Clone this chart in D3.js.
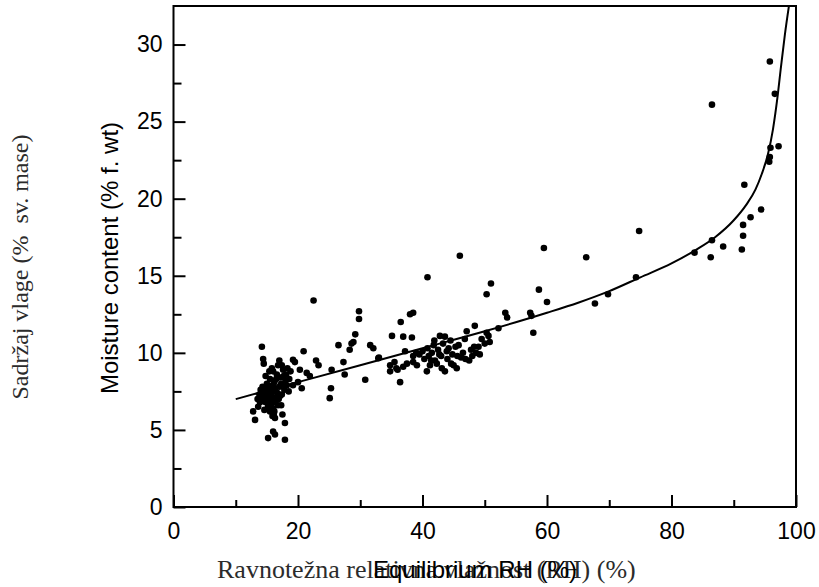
<!DOCTYPE html>
<html>
<head>
<meta charset="utf-8">
<script src="https://cdn.jsdelivr.net/npm/d3@7"></script>
<style>
  body { margin: 0; background: #fff; }
  svg { display: block; }
</style>
</head>
<body>
<div id="chart"></div>
<script>
// measured points: [equilibrium RH %, moisture content % f. wt]
const samplePoints = [
  [12.8,6.2],[13.1,5.65],[13.5,7.0],[13.8,7.3],[14.0,7.6],[14.2,10.4],[14.4,9.6],[14.5,9.3],
  [14.3,7.8],[14.6,7.1],[14.8,6.8],[15.0,7.4],[15.0,8.0],[15.2,6.5],[15.3,7.2],[15.5,6.2],
  [15.5,8.3],[15.6,7.7],[15.8,6.9],[16.0,7.5],[16.0,6.4],[16.2,8.1],[16.3,5.77],[16.0,4.9],
  [16.3,4.7],[15.2,4.47],[16.5,7.0],[16.6,8.6],[16.8,9.2],[16.8,6.6],[17.0,7.8],[17.0,9.5],
  [17.2,8.4],[17.4,7.3],[17.5,6.0],[17.6,8.9],[17.9,4.36],[17.8,7.6],[18.0,8.2],[17.9,5.45],
  [18.3,9.0],[18.5,7.5],[18.8,8.8],[19.2,9.55],[19.5,9.4],[19.2,7.9],[15.8,9.0],[14.8,8.5],
  [16.9,7.0],[13.6,6.5],[15.4,8.8],[14.1,7.0],[15.7,7.3],[16.4,7.7],[17.3,8.0],[18.6,8.3],
  [14.6,6.3],[16.1,6.0],[20.3,8.9],[21.4,8.7],[21.9,8.5],[20.0,8.1],[20.6,7.7],
  [14.9,7.7],[15.1,6.9],[15.4,7.6],[15.6,6.6],[15.9,7.9],[16.1,7.1],[16.3,6.8],[16.5,8.3],
  [16.7,7.4],[17.1,7.2],[17.3,6.6],[16.2,6.2],[15.9,5.9],[14.4,7.4],[13.9,6.8],[17.7,8.5],
  [18.2,7.9],[16.0,8.8],[17.4,9.2],[18.1,8.6],
  [20.9,10.1],[22.5,13.4],[22.9,9.5],[23.3,9.2],[25.1,7.06],[25.3,7.7],[25.4,8.9],[26.5,10.5],
  [27.5,8.6],[27.3,9.4],[28.3,10.2],[28.6,10.6],[29.8,12.7],[29.8,12.2],[29.2,11.2],[28.9,10.7],
  [30.8,8.25],[31.6,10.5],[32.1,10.3],[32.9,9.65],[34.8,9.2],[34.8,8.8],[36.4,8.1],[36.9,9.1],
  [36.5,12.0],[38.0,12.5],[38.5,12.6],[35.1,11.1],[36.9,11.05],[38.3,11.0],[37.2,10.1],
  [38.5,9.8],[39.1,9.2],[35.5,9.4],[36.0,8.9],[33.0,9.7],[35.8,9.0],[37.5,9.3],
  [39.5,9.9],[40.0,10.1],[40.3,9.6],[40.8,10.3],[41.0,9.8],[41.2,9.2],[41.5,10.0],[41.8,10.5],
  [42.0,9.5],[42.3,9.3],[42.5,10.2],[42.8,11.1],[43.0,9.8],[43.3,10.6],[43.6,8.8],[44.0,9.6],
  [44.2,10.3],[44.5,10.8],[44.8,9.9],[45.0,9.2],[45.3,10.4],[45.5,9.0],[45.8,10.5],[46.2,9.7],
  [46.5,10.0],[46.8,10.9],[47.1,11.4],[47.5,9.5],[47.8,10.2],[48.0,9.8],[48.4,11.75],[48.6,10.0],
  [49.0,10.4],[49.5,10.9],[50.0,10.6],[50.6,11.1],[50.8,10.7],[40.7,8.8],[38.5,9.4],[39.0,10.0],
  [41.4,9.5],[42.7,9.9],[43.9,10.1],[44.6,9.3],[45.6,9.8],[46.9,9.6],[48.3,10.4],[49.2,9.9],
  [41.9,10.8],[43.1,9.0],
  [43.6,11.05],[40.8,14.9],[46.0,16.3],
  [51.0,14.5],[50.3,13.8],[53.3,12.6],[53.6,12.3],[57.3,12.6],[57.5,12.4],[57.8,11.3],
  [52.2,11.6],[50.3,11.3],[59.5,16.8],[58.7,14.1],[60.0,13.3],
  [66.3,16.2],[67.7,13.2],[69.8,13.8],[74.3,14.9],[74.8,17.9],[83.7,16.5],[86.3,16.2],
  [86.5,17.3],[86.5,26.1],[88.3,16.9],[91.3,16.7],[91.5,17.6],[91.5,18.3],[92.7,18.8],
  [94.4,19.3],[91.7,20.9],[95.7,22.4],[95.8,22.7],[95.9,23.3],[97.2,23.4],[96.6,26.8],[95.8,28.9]
];

// fitted sorption curve
const fitRh = [10, 20, 30, 40, 50, 60, 65, 70, 75, 80, 84, 87, 90, 92, 93.5, 94.5, 95.5, 96.3, 97, 97.6, 98.2, 98.9];
const fitMoisture = [7.0, 8.1, 9.2, 10.3, 11.4, 12.6, 13.25, 14.0, 14.9, 15.8, 16.7, 17.5, 18.6, 19.6, 20.6, 21.6, 22.9, 24.5, 26.5, 28.6, 30.6, 32.6];

const xMajorTicks = [0, 20, 40, 60, 80, 100];
const xMinorTicks = [10, 30, 50, 70, 90];
const yMajorTicks = [0, 5, 10, 15, 20, 25, 30];
const yMinorTicks = [2.5, 7.5, 12.5, 17.5, 22.5, 27.5];

const labels = {
  xEn: 'Equilibrium RH (%)',
  xHr: 'Ravnotežna relativna vlažnost (RH) (%)',
  yEn: 'Moisture content (% f. wt)',
  yHr: 'Sadržaj vlage (%  sv. mase)'
};

const width = 819, height = 587;
const margin = {top: 6, right: 23, bottom: 80, left: 173.5};
const w = width - margin.left - margin.right;
const h = height - margin.top - margin.bottom;
const sans = '"Liberation Sans", Arial, Helvetica, sans-serif';
const serif = '"Liberation Serif", "Times New Roman", serif';

const svg = d3.select('#chart').append('svg')
  .attr('width', width).attr('height', height);

const g = svg.append('g')
  .attr('transform', 'translate(' + margin.left + ',' + margin.top + ')');

const x = d3.scaleLinear().domain([0, 100]).range([0, w]);
const y = d3.scaleLinear().domain([0, 32.5]).range([h, 0]);

svg.append('defs').append('clipPath').attr('id', 'plot-clip')
  .append('rect').attr('width', w).attr('height', h);

// axes (ticks point inward)
const styleAxis = (sel) => {
  sel.select('.domain').remove();
  sel.selectAll('line').attr('stroke', '#000').attr('stroke-width', 2);
  sel.selectAll('text').attr('fill', '#000')
    .attr('font-family', sans).attr('font-size', 23);
};

g.append('g').attr('transform', 'translate(0,' + h + ')')
  .call(d3.axisBottom(x).tickValues(xMajorTicks).tickSize(-12).tickPadding(16).tickFormat(d3.format('d')))
  .call(styleAxis);
g.append('g').attr('transform', 'translate(0,' + h + ')')
  .call(d3.axisBottom(x).tickValues(xMinorTicks).tickSize(-7).tickFormat(''))
  .call(styleAxis);
g.append('g')
  .call(d3.axisLeft(y).tickValues(yMajorTicks).tickSize(-12).tickPadding(11).tickFormat(d3.format('d')))
  .call(styleAxis);
g.append('g')
  .call(d3.axisLeft(y).tickValues(yMinorTicks).tickSize(-8).tickFormat(''))
  .call(styleAxis);

// frame
g.append('rect')
  .attr('width', w).attr('height', h)
  .attr('fill', 'none').attr('stroke', '#000').attr('stroke-width', 2);

// fitted curve
const fitData = fitRh.map((r, i) => ({rh: r, mc: fitMoisture[i]}));
g.append('path')
  .datum(fitData)
  .attr('clip-path', 'url(#plot-clip)')
  .attr('fill', 'none')
  .attr('stroke', '#000')
  .attr('stroke-width', 2)
  .attr('d', d3.line().x((d) => x(d.rh)).y((d) => y(d.mc)).curve(d3.curveMonotoneX));

// points
g.append('g').selectAll('circle')
  .data(samplePoints)
  .join('circle')
  .attr('cx', (d) => x(d[0]))
  .attr('cy', (d) => y(d[1]))
  .attr('r', 3.3)
  .attr('fill', '#000');

// axis titles (serif translation overlaid on english original)
svg.append('text')
  .attr('x', 217).attr('y', 578)
  .attr('font-family', serif).attr('font-size', 26).attr('fill', '#2b2b2b')
  .text(labels.xHr);
svg.append('text')
  .attr('x', 475).attr('y', 578)
  .attr('text-anchor', 'middle')
  .attr('font-family', sans).attr('font-size', 24).attr('fill', '#000')
  .text(labels.xEn);

svg.append('text')
  .attr('transform', 'translate(118,258) rotate(-90)')
  .attr('text-anchor', 'middle')
  .attr('font-family', sans).attr('font-size', 24).attr('fill', '#000')
  .text(labels.yEn);
svg.append('text')
  .attr('transform', 'translate(28,267) rotate(-90)')
  .attr('text-anchor', 'middle')
  .style('white-space', 'pre')
  .attr('font-family', serif).attr('font-size', 24).attr('fill', '#2b2b2b')
  .text(labels.yHr);
</script>
</body>
</html>
